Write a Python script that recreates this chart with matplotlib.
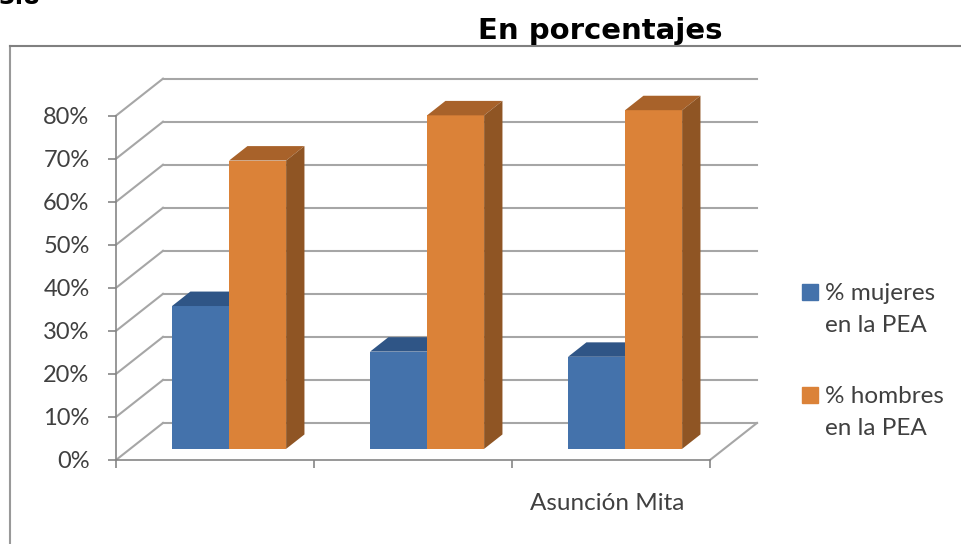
import matplotlib
matplotlib.use("Agg")
import matplotlib.pyplot as plt
from matplotlib.legend_handler import HandlerPatch
from matplotlib.lines import Line2D
from matplotlib.patches import Patch, Polygon, Rectangle

# Data
series_names = ["% mujeres\nen la PEA", "% hombres\nen la PEA"]
mujeres = [33.2, 22.6, 21.4]
hombres = [67.0, 77.5, 78.7]
categories = ["", "", "Asunción Mita"]
y_ticks = [0, 10, 20, 30, 40, 50, 60, 70, 80]

W, H = 961, 544
BLUE = ("#4472ab", "#2f5586", "#2f5586")
ORANGE = ("#db8238", "#a8622a", "#8f5524")
GRID = "#a6a6a6"
AXIS = "#868686"
TEXT = "#404040"

# oblique depth, in data units (47 px across, 37 px up)
DX = 47 / 198
DY = 37 / 43 * 10


def proj(x, v, d):
	return (x + d * DX, v + d * DY)


def draw_bar(ax, x, w, v, colors, z):
	d0, d1 = 0.3, 0.69
	front, top, side = colors
	ax.add_patch(Polygon([proj(x, 0, d0), proj(x + w, 0, d0), proj(x + w, v, d0), proj(x, v, d0)],
		closed=True, fc=front, ec="none", clip_on=False, zorder=z))
	ax.add_patch(Polygon([proj(x, v, d0), proj(x + w, v, d0), proj(x + w, v, d1), proj(x, v, d1)],
		closed=True, fc=top, ec="none", clip_on=False, zorder=z))
	ax.add_patch(Polygon([proj(x + w, 0, d0), proj(x + w, 0, d1), proj(x + w, v, d1), proj(x + w, v, d0)],
		closed=True, fc=side, ec="none", clip_on=False, zorder=z))


def raised_patch(legend, orig_handle, xdescent, ydescent, width, height, fontsize):
	# Keep the key next to the first line of the two line label
	return Rectangle((-xdescent, -ydescent + 12.5), width, height)


plt.rcParams["font.family"] = ["Lato", "DejaVu Sans"]
fig = plt.figure(figsize=(W / 100, H / 100), dpi=100)
ax = fig.add_axes([116 / W, (H - 460) / H, 594 / W, 344.3 / H])
ax.set_xlim(0, 3)
ax.set_ylim(0, 80)
ax.patch.set_visible(False)

# Chart frame
fig.add_artist(Line2D([10 / W, 10 / W], [0, 1 - 46 / H], color="#999999", lw=1.5))
fig.add_artist(Line2D([10 / W, 1], [1 - 46 / H, 1 - 46 / H], color="#808080", lw=1.5))

# Back wall and side wall grid lines
for t in y_ticks:
	ax.plot(*zip(proj(0, t, 0), proj(0, t, 1)), color=GRID, lw=1.5, clip_on=False, zorder=1)
	ax.plot(*zip(proj(0, t, 1), proj(3, t, 1)), color=GRID, lw=1.5, clip_on=False, zorder=1)
ax.plot(*zip(proj(3, 0, 0), proj(3, 0, 1)), color=GRID, lw=1.5, clip_on=False, zorder=1)

# Bars
bar_w = 0.288
for i in range(len(mujeres)):
	draw_bar(ax, i + 0.212, bar_w, mujeres[i], BLUE, 3)
	draw_bar(ax, i + 0.212 + bar_w, bar_w, hombres[i], ORANGE, 4)

# Axes
for s in ["top", "right"]:
	ax.spines[s].set_visible(False)
for s in ["left", "bottom"]:
	ax.spines[s].set_color(AXIS)
	ax.spines[s].set_linewidth(1.2)
ax.set_yticks(y_ticks)
ax.set_yticklabels([str(t) + "%" for t in y_ticks], fontsize=17, color=TEXT)
ax.tick_params(axis="y", length=6, width=1.2, color=AXIS, pad=13)
ax.set_xticks([0, 1, 2, 3])
ax.set_xticklabels([])
ax.tick_params(axis="x", length=6, width=1.2, color=AXIS)
ax.set_xticks([0.48, 1.48, 2.48], minor=True)
ax.set_xticklabels(categories, minor=True, fontsize=17.5, color=TEXT)
ax.tick_params(axis="x", which="minor", length=0, pad=24)

# Legend
handles = [Patch(color=BLUE[0]), Patch(color=ORANGE[0])]
leg = ax.legend(handles, series_names, loc="upper left", bbox_to_anchor=(780.6 / W, 1 - 261 / H),
	bbox_transform=fig.transFigure, frameon=False, fontsize=17.5, labelcolor=TEXT,
	handlelength=0.62, handleheight=0.62, handletextpad=0.3, labelspacing=2.05,
	handler_map={Patch: HandlerPatch(patch_func=raised_patch)})
for t in leg.get_texts():
	t.set_linespacing(1.65)

# Titles
fig.text(478 / W, 1 - 39 / H, "En porcentajes", family="DejaVu Sans", weight="bold",
	fontsize=21, color="black", ha="left", va="baseline")
fig.text(-2 / W, 1 - 4 / H, "3.8", family="DejaVu Sans", weight="bold",
	fontsize=17, color="black", ha="left", va="baseline")

fig.savefig("out.png", dpi=100)
